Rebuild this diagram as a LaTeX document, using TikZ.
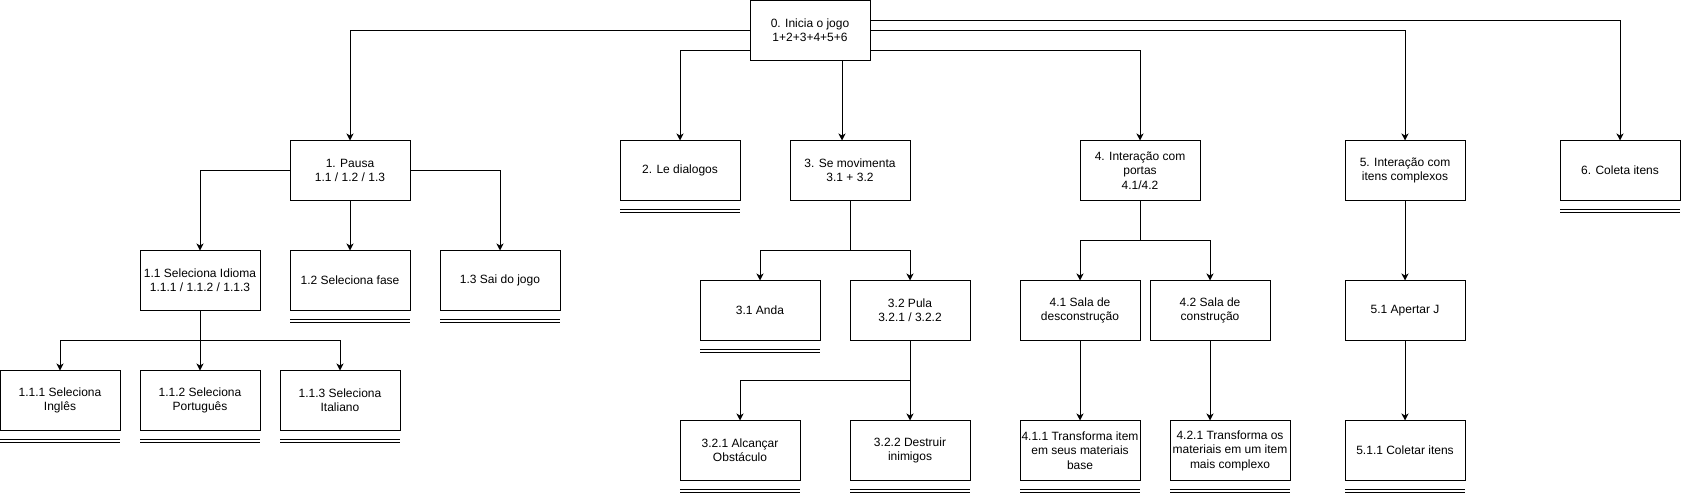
\documentclass[tikz,border=0pt]{standalone}
\usepackage{fontspec}
\setmainfont{Liberation Sans}
\usetikzlibrary{positioning, arrows.meta}

\begin{document}
\begin{tikzpicture}[->,>={Stealth[length=7pt,width=7pt,inset=2pt]},x=1pt,y=-1pt,
        line width=1pt, node distance=80pt,
        taskbox/.style={draw, rectangle, minimum width=120pt, minimum height=60pt,
            inner sep=0pt, outer sep=0pt, align=center, font=\fontsize{12}{14.4}\selectfont}]

    \useasboundingbox (0,0) rectangle (1681,493);

    \node[taskbox]                                  (0)   at (810,30.5) {0. Inicia o jogo\\1+2+3+4+5+6};
    \node[taskbox, below=of 0, xshift=40pt]         (3)   {3. Se movimenta\\3.1 + 3.2};
    \node[taskbox, left=50pt of 3]                  (2)   {2. Le dialogos};
    \node[taskbox, left=210pt of 2]                 (1)   {1. Pausa\\1.1 / 1.2 / 1.3};
    \node[taskbox, right=170pt of 3]                (4)   {4. Interação com\\portas\\4.1/4.2};
    \node[taskbox, right=145pt of 4]                (5)   {5. Interação com\\itens complexos};
    \node[taskbox, right=95pt of 5]                 (6)   {6. Coleta itens};

    \node[taskbox, below=50pt of 1]                 (12)  {1.2 Seleciona fase};
    \node[taskbox, left=30pt of 12]                 (11)  {1.1 Seleciona Idioma\\1.1.1 / 1.1.2 / 1.1.3};
    \node[taskbox, right=30pt of 12]                (13)  {1.3 Sai do jogo};
    \node[taskbox, below=60pt of 11]                (112) {1.1.2 Seleciona\\Português};
    \node[taskbox, left=20pt of 112]                (111) {1.1.1 Seleciona\\Inglês};
    \node[taskbox, right=20pt of 112]               (113) {1.1.3 Seleciona\\Italiano};

    \node[taskbox, below=of 3, xshift=-90pt]        (31)  {3.1 Anda};
    \node[taskbox, right=30pt of 31]                (32)  {3.2 Pula\\3.2.1 / 3.2.2};
    \node[taskbox, below=of 32]                     (322) {3.2.2 Destruir\\inimigos};
    \node[taskbox, left=50pt of 322]                (321) {3.2.1 Alcançar\\Obstáculo};

    \node[taskbox, below=of 4, xshift=-60pt]        (41)  {4.1 Sala de\\desconstrução};
    \node[taskbox, right=10pt of 41]                (42)  {4.2 Sala de\\construção};
    \node[taskbox, below=of 41]                     (411) {4.1.1 Transforma item\\em seus materiais\\base};
    \node[taskbox, below=of 42, xshift=20pt]        (421) {4.2.1 Transforma os\\materiais em um item\\mais complexo};

    \node[taskbox, below=of 5]                      (51)  {5.1 Apertar J};
    \node[taskbox, below=of 51]                     (511) {5.1.1 Coletar itens};

    % junctions of the split connectors
    \coordinate (j11) at ([yshift=-30pt]11.south);
    \coordinate (j3)  at ([yshift=-50pt]3.south);
    \coordinate (j32) at ([yshift=-40pt]32.south);
    \coordinate (j4)  at ([yshift=-40pt]4.south);

    \draw   (0.west)                -| (1.north);
    \draw   ([yshift=-20pt]0.west)  -| (2.north);
    \draw   ([xshift=32pt]0.south)  -- ([xshift=-8pt]3.north);
    \draw   ([yshift=-20pt]0.east)  -| (4.north);
    \draw   (0.east)                -| (5.north);
    \draw   ([yshift=10pt]0.east)   -| (6.north);

    \draw   (1.west)  -| (11.north);
    \draw   (1)       -- (12);
    \draw   (1.east)  -| (13.north);
    \draw   (11.south) -- (j11) -| (111.north);
    \draw   (j11) -- (112.north);
    \draw   (j11) -| (113.north);

    \draw   (3.south) -- (j3) -| (31.north);
    \draw   (j3) -| (32.north);
    \draw   (32.south) -- (j32) -| (321.north);
    \draw   (j32) -- (322.north);

    \draw   (4.south) -- (j4) -| (41.north);
    \draw   (j4) -| (42.north);
    \draw   (41) -- (411);
    \draw   (42.south) -- (42.south |- 421.north);

    \draw   (5) -- (51);
    \draw   (51) -- (511);

    % double underline of the leaves
    \foreach \n in {2,6,12,13,111,112,113,31,321,322,411,421,511}
        \draw[-] ([yshift=-8.5pt]\n.south west) -- ([yshift=-8.5pt]\n.south east)
                 ([yshift=-12pt]\n.south west) -- ([yshift=-12pt]\n.south east);

\end{tikzpicture}
\end{document}
